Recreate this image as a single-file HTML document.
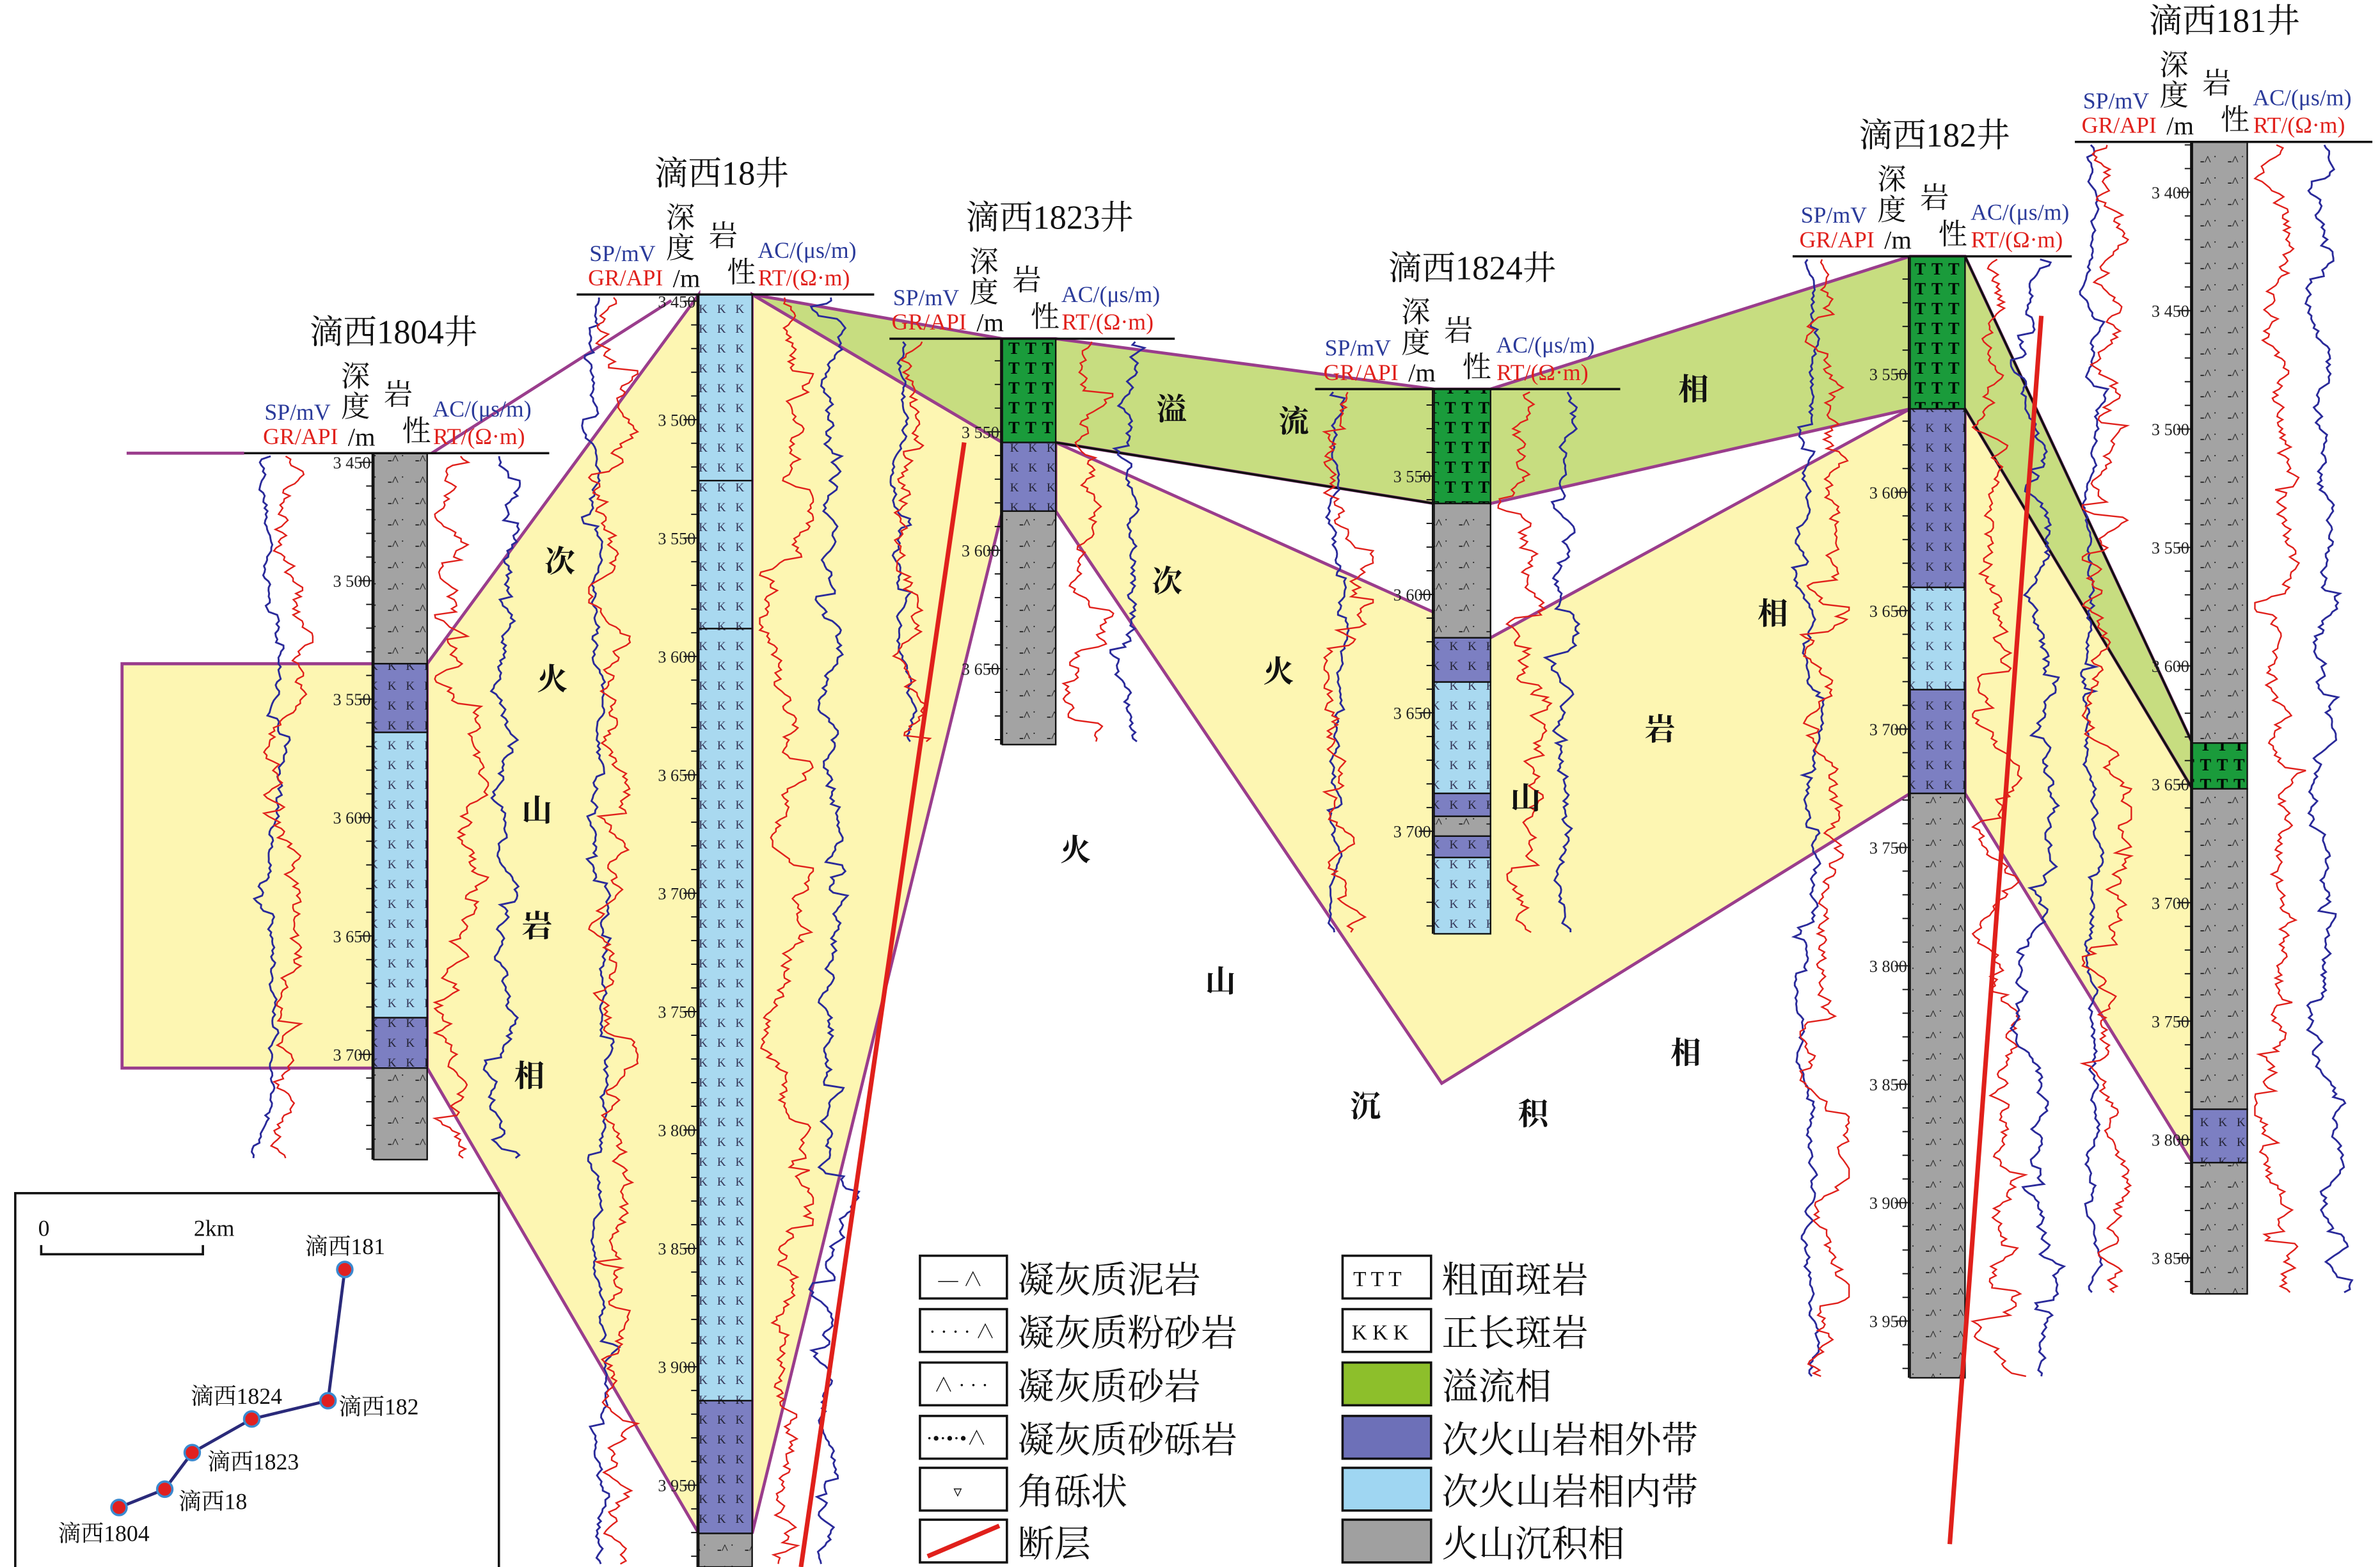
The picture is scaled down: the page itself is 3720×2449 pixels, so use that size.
<!DOCTYPE html>
<html><head><meta charset="utf-8">
<style>
html,body{margin:0;padding:0;background:#fff;}
svg{display:block;}
text{font-family:"Liberation Serif","Noto Serif CJK SC","Noto Sans CJK SC",serif;}
.t{font-size:22px;fill:#111;}
.hd{font-size:15px;}
.dp{font-size:11px;fill:#222;}
.big{font-size:20px;font-weight:bold;font-family:"Noto Sans CJK SC","WenQuanYi Zen Hei",sans-serif;fill:#111;}
.lg{font-size:24px;fill:#111;}
.mp{font-size:15px;fill:#111;}
</style></head><body>
<svg id="s" width="3720" height="2449" viewBox="0 0 1560 1027" preserveAspectRatio="none" xmlns="http://www.w3.org/2000/svg">
<defs>
<pattern id="pg" width="18" height="14" patternUnits="userSpaceOnUse">
<rect width="18" height="14" fill="#a3a3a3"/>
<text x="2" y="10" font-size="9" fill="#111">-^</text><text x="11" y="5" font-size="7" fill="#111">.</text>
</pattern>
<pattern id="pb" width="12" height="13" patternUnits="userSpaceOnUse">
<rect width="12" height="13" fill="#a9d9f0"/>
<text x="2" y="10" font-size="8" fill="#335">K</text>
</pattern>
<pattern id="pp" width="12" height="13" patternUnits="userSpaceOnUse">
<rect width="12" height="13" fill="#7c7fc2"/>
<text x="2" y="10" font-size="8" fill="#223">K</text>
</pattern>
<pattern id="pgr" width="11" height="13" patternUnits="userSpaceOnUse">
<rect width="11" height="13" fill="#1a9b3b"/>
<text x="1" y="11" font-size="11" font-weight="bold" fill="#000">T</text>
</pattern>
</defs>
<rect width="1560" height="1027" fill="#fff"/>
<g stroke="#9a3d8c" stroke-width="2">
<polygon points="80,435 245,435 245,700 80,700" fill="#fdf6b2"/>
<line x1="83" y1="297" x2="160" y2="297"/>
<polygon points="280,435 458,193 458,1005 280,700" fill="#fdf6b2"/>
<line x1="283" y1="297" x2="440" y2="197"/>
<polygon points="493,193 657,290 657,335 493,1005" fill="#fdf6b2"/>
<polygon points="692,290 977,418 1252,268 1252,520 945,710 692,335" fill="#fdf6b2"/>
<polygon points="1288,268 1437,517 1437,762 1288,520" fill="#fdf6b2"/>
</g>
<polygon points="493,193 657,222 692,222 940,255 977,255 1252,168 1288,168 1437,487 1437,517 1288,268 1252,268 977,330 940,330 692,290 657,290" fill="#c7dd80" stroke="#9a3d8c" stroke-width="2"/>
<line x1="692" y1="290" x2="940" y2="330" stroke="#111" stroke-width="1.5"/>
<line x1="1288" y1="268" x2="1437" y2="517" stroke="#111" stroke-width="1.5"/>
<line x1="1288" y1="168" x2="1437" y2="487" stroke="#111" stroke-width="1.5"/>
<g id="logs"></g>
<g id="cols"></g>
<line x1="525" y1="1027" x2="632" y2="290" stroke="#e0201b" stroke-width="3"/>
<line x1="1278" y1="1012" x2="1338" y2="207" stroke="#e0201b" stroke-width="3"/>
<g class="big" text-anchor="middle">
<text x="367" y="375">次</text><text x="362" y="452">火</text><text x="352" y="538">山</text><text x="352" y="614">岩</text><text x="347" y="712">相</text>
<text x="765" y="388">次</text><text x="838" y="447">火</text><text x="1000" y="530">山</text><text x="1088" y="485">岩</text><text x="1162" y="409">相</text>
<text x="768" y="275">溢</text><text x="848" y="283">流</text><text x="1110" y="262">相</text>
<text x="705" y="564">火</text><text x="800" y="650">山</text><text x="895" y="732">沉</text><text x="1005" y="737">积</text><text x="1105" y="697">相</text>
</g>
<g stroke="#111" stroke-width="1.5">
<rect x="603" y="823" width="57" height="28" fill="#fff"/>
<rect x="603" y="858" width="57" height="28" fill="#fff"/>
<rect x="603" y="893" width="57" height="28" fill="#fff"/>
<rect x="603" y="928" width="57" height="28" fill="#fff"/>
<rect x="603" y="962" width="57" height="28" fill="#fff"/>
<rect x="603" y="996" width="57" height="28" fill="#fff"/>
<rect x="880" y="823" width="58" height="28" fill="#fff"/>
<rect x="880" y="858" width="58" height="28" fill="#fff"/>
<rect x="880" y="893" width="58" height="28" fill="#8dbf2b"/>
<rect x="880" y="928" width="58" height="28" fill="#6d70b8"/>
<rect x="880" y="962" width="58" height="28" fill="#9fd6f2"/>
<rect x="880" y="996" width="58" height="28" fill="#a0a0a0"/>
</g>
<g font-size="13" fill="#111" font-family="Liberation Sans,sans-serif">
<text x="615" y="843">— ∧</text><text x="609" y="877">· · · · ∧</text><text x="612" y="912">∧ · · ·</text><text x="607" y="947">·•·•·•∧</text><text x="625" y="981" font-size="11">▿</text>
<text x="887" y="843" font-size="14">T T T</text><text x="886" y="878" font-size="14">K K K</text>
</g>
<line x1="608" y1="1020" x2="655" y2="1000" stroke="#e0201b" stroke-width="3"/>
<g class="lg">
<text x="667" y="847">凝灰质泥岩</text><text x="667" y="882">凝灰质粉砂岩</text><text x="667" y="917">凝灰质砂岩</text><text x="667" y="952">凝灰质砂砾岩</text><text x="667" y="986">角砾状</text><text x="667" y="1020">断层</text>
<text x="945" y="847">粗面斑岩</text><text x="945" y="882">正长斑岩</text><text x="945" y="917">溢流相</text><text x="945" y="952">次火山岩相外带</text><text x="945" y="986">次火山岩相内带</text><text x="945" y="1020">火山沉积相</text>
</g>
<rect x="10" y="782" width="317" height="248" fill="#fff" stroke="#111" stroke-width="1.5"/>
<text x="25" y="810" class="mp">0</text><text x="127" y="810" class="mp">2km</text>
<polyline points="27,816 27,822 133,822 133,816" fill="none" stroke="#111" stroke-width="1.5"/>
<polyline points="78,988 108,976 126,952 165,930 215,918 226,832" fill="none" stroke="#2a2a7a" stroke-width="2"/>
<g fill="#e02020" stroke="#3a8ad0" stroke-width="1.5">
<circle cx="226" cy="832" r="5"/><circle cx="215" cy="918" r="5"/><circle cx="165" cy="930" r="5"/><circle cx="126" cy="952" r="5"/><circle cx="108" cy="976" r="5"/><circle cx="78" cy="988" r="5"/>
</g>
<g class="mp">
<text x="200" y="822">滴西181</text><text x="222" y="927">滴西182</text><text x="125" y="920">滴西1824</text><text x="136" y="963">滴西1823</text><text x="117" y="989">滴西18</text><text x="38" y="1010">滴西1804</text>
</g>
</svg>
<script>
(function(){
var NS="http://www.w3.org/2000/svg";
var logs=document.getElementById('logs'),cols=document.getElementById('cols'),svg=document.getElementById('s');
var seed=12345;function r(){seed=(seed*16807)%2147483647;return seed/2147483647;}
function el(p,t,a,txt){var e=document.createElementNS(NS,t);for(var k in a)e.setAttribute(k,a[k]);if(txt!=null)e.textContent=txt;p.appendChild(e);return e;}
var wells=[
{n:"滴西1804井",x:245,w:35,top:297,bot:760,d0:3450,y0:303,hl:160,hr:360,tx:258,
 seg:[[297,435,'pg'],[435,480,'pp'],[480,667,'pb'],[667,700,'pp'],[700,760,'pg']]},
{n:"滴西18井",x:458,w:35,top:193,bot:1027,d0:3500,y0:275,hl:378,hr:573,tx:473,
 seg:[[193,315,'pb'],[315,412,'pb'],[412,918,'pb'],[918,1005,'pp'],[1005,1027,'pg']]},
{n:"滴西1823井",x:657,w:35,top:222,bot:488,d0:3550,y0:283,hl:583,hr:770,tx:688,
 seg:[[222,290,'pgr'],[290,335,'pp'],[335,488,'pg']]},
{n:"滴西1824井",x:940,w:37,top:255,bot:612,d0:3550,y0:312,hl:862,hr:1062,tx:965,
 seg:[[255,330,'pgr'],[330,418,'pg'],[418,447,'pp'],[447,520,'pb'],[520,535,'pp'],[535,548,'pg'],[548,562,'pp'],[562,612,'pb']]},
{n:"滴西182井",x:1252,w:36,top:168,bot:903,d0:3550,y0:245,hl:1175,hr:1358,tx:1268,
 seg:[[168,268,'pgr'],[268,385,'pp'],[385,452,'pb'],[452,520,'pp'],[520,903,'pg']]},
{n:"滴西181井",x:1437,w:36,top:93,bot:848,d0:3400,y0:126,hl:1360,hr:1555,tx:1458,
 seg:[[93,487,'pg'],[487,517,'pgr'],[517,727,'pg'],[727,762,'pp'],[762,848,'pg']]}
];
var step=77.6;
wells.forEach(function(W){
 var R=W.x+W.w;
 el(svg,'text',{x:W.tx,y:W.top-72,'text-anchor':'middle',class:'t'},W.n);
 el(svg,'line',{x1:W.hl,y1:W.top,x2:W.hr,y2:W.top,stroke:'#111','stroke-width':1.5});
 el(svg,'text',{x:W.x-50,y:W.top-22,'text-anchor':'middle',class:'hd',fill:'#2a3a9a'},"SP/mV");
 el(svg,'text',{x:W.x-48,y:W.top-6,'text-anchor':'middle',class:'hd',fill:'#e0201b'},"GR/API");
 el(svg,'text',{x:W.x-12,y:W.top-44,'text-anchor':'middle',class:'t',style:'font-size:19px'},"深");
 el(svg,'text',{x:W.x-12,y:W.top-24,'text-anchor':'middle',class:'t',style:'font-size:19px'},"度");
 el(svg,'text',{x:W.x-8,y:W.top-5,'text-anchor':'middle',class:'t',style:'font-size:17px'},"/m");
 el(svg,'text',{x:W.x+16,y:W.top-32,'text-anchor':'middle',class:'t',style:'font-size:19px'},"岩");
 el(svg,'text',{x:W.x+28,y:W.top-8,'text-anchor':'middle',class:'t',style:'font-size:19px'},"性");
 el(svg,'text',{x:R+36,y:W.top-24,'text-anchor':'middle',class:'hd',fill:'#2a3a9a'},"AC/(μs/m)");
 el(svg,'text',{x:R+34,y:W.top-6,'text-anchor':'middle',class:'hd',fill:'#e0201b'},"RT/(Ω·m)");
 function curve(x0,x1,col,amp,sw){var pts=[],c=(x0+x1)/2,v=c;for(var y=W.top+2;y<W.bot;y+=2){v+= (r()-0.5)*amp+(c-v)*0.08;if(r()<0.05)v+=(r()-0.5)*amp*4;v=Math.max(x0,Math.min(x1,v));pts.push(v.toFixed(1)+","+y);}el(logs,'polyline',{points:pts.join(' '),fill:'none',stroke:col,'stroke-width':sw});}
 curve(W.x-80,W.x-52,'#2a2a9a',4,1.2);
 curve(W.x-72,W.x-40,'#e0201b',9,1);
 curve(R+5,R+40,'#e0201b',9,1);
 curve(R+30,R+70,'#2a2a9a',6,1.2);
 W.seg.forEach(function(s){el(cols,'rect',{x:W.x,y:s[0],width:W.w,height:s[1]-s[0],fill:'url(#'+s[2]+')',stroke:'#111','stroke-width':1});});
 for(var k=-10;k<80;k++){var y=W.y0+k*step/5;if(y<W.top||y>W.bot)continue;var big=(k%5==0);
  el(cols,'line',{x1:W.x-(big?10:5),y1:y,x2:W.x,y2:y,stroke:'#111','stroke-width':0.8});
  if(big){var d=W.d0+k*10;el(cols,'text',{x:W.x-2,y:y+4,'text-anchor':'end',class:'dp'},String(d).charAt(0)+" "+String(d).slice(1));}}
 el(cols,'line',{x1:W.x-1,y1:W.top,x2:W.x-1,y2:W.bot,stroke:'#111','stroke-width':1});
});
})();
</script>
</body></html>
